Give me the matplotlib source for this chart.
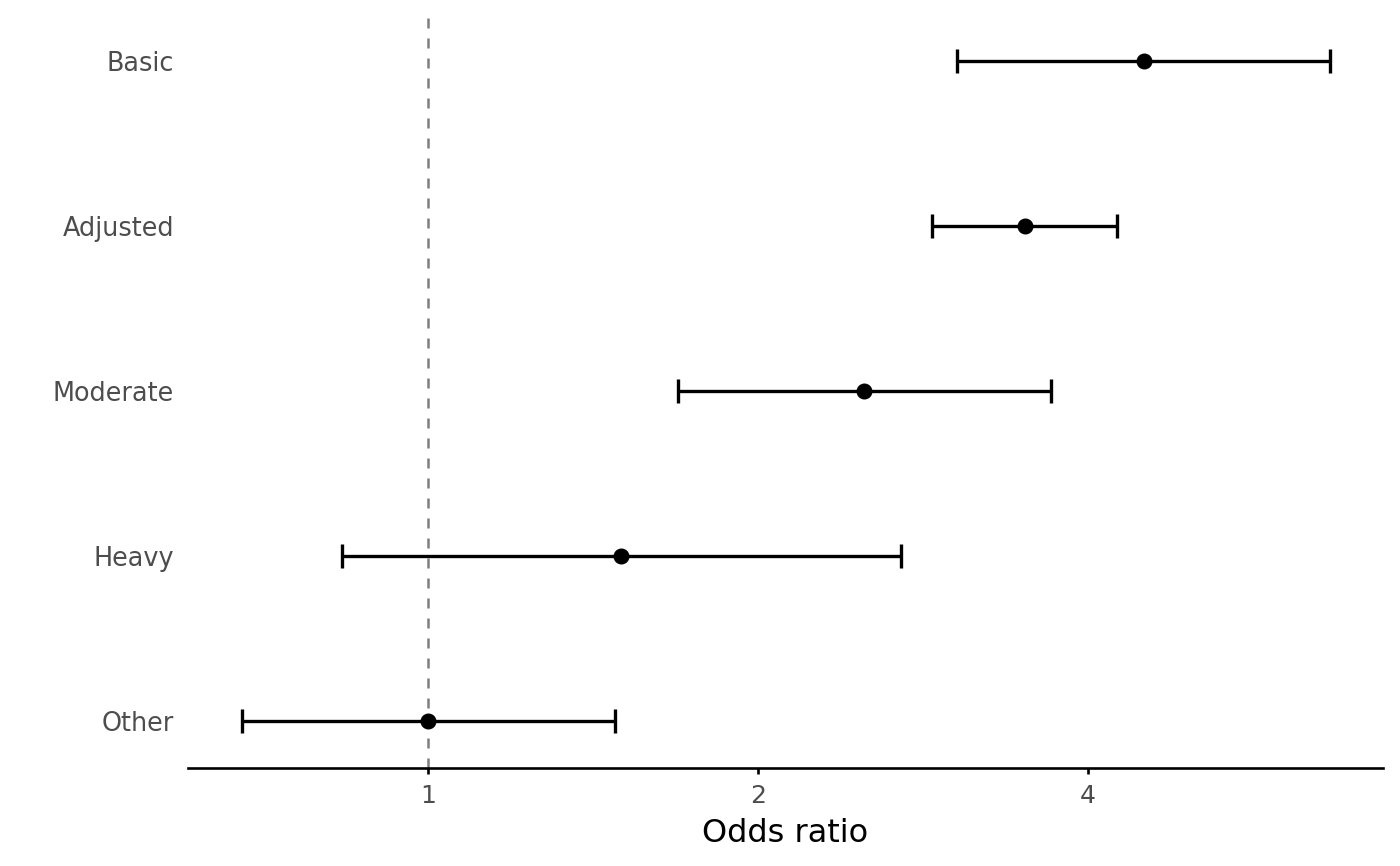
import matplotlib
matplotlib.use('Agg')
import matplotlib.pyplot as plt

# forest plot values (log2 x axis)
labels = ['Other', 'Heavy', 'Moderate', 'Adjusted', 'Basic']
odds = [1.00, 1.50, 2.50, 3.50, 4.50]
lower = [0.677, 0.835, 1.69, 2.88, 3.04]
upper = [1.48, 2.70, 3.70, 4.25, 6.65]
xticks = [1, 2, 4]

fig = plt.figure(figsize=(14, 8.66), dpi=100)
ax = fig.add_axes([188 / 1400, 1 - 768 / 866, (1383 - 188) / 1400, (768 - 15) / 866])

ypos = list(range(1, len(labels) + 1))
ax.axvline(1, color='#7f7f7f', linestyle=(0, (4, 4)), linewidth=1.8, zorder=1)
ax.errorbar(odds, ypos,
            xerr=[[o - l for o, l in zip(odds, lower)], [u - o for o, u in zip(odds, upper)]],
            fmt='o', color='black', markersize=10.5, elinewidth=2.4, capsize=8.8, capthick=2.4,
            zorder=3)

ax.set_xscale('log', base=2)
ax.set_xlim(0.604, 7.43)
ax.set_ylim(0.715, 5.28)
ax.set_xticks(xticks)
ax.set_xticklabels([str(t) for t in xticks])
ax.minorticks_off()
ax.set_yticks(ypos)
ax.set_yticklabels(labels)

for s in ['top', 'right', 'left']:
    ax.spines[s].set_visible(False)
ax.spines['bottom'].set_linewidth(1.9)
ax.tick_params(axis='x', length=4.5, width=1.9, colors='black', labelcolor='#4d4d4d',
               labelsize=18, pad=7)
ax.tick_params(axis='y', length=0, labelcolor='#4d4d4d', labelsize=18.4, pad=10)
ax.set_xlabel('Odds ratio', fontsize=23, color='black', labelpad=7)

fig.savefig('out.png', dpi=100)
